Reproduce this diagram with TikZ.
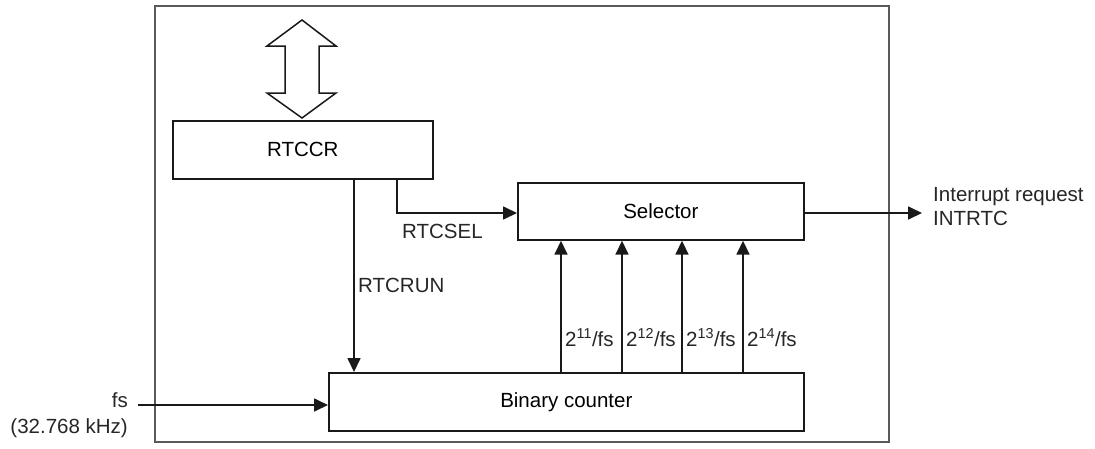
\documentclass[tikz,border=0pt]{standalone}
\usepackage{fontspec}
\setmainfont{Liberation Sans}
\usetikzlibrary{arrows.meta}
\begin{document}
\begin{tikzpicture}[x=1pt,y=-1pt,
  box/.style={draw=black!90, line width=1.7pt, inner sep=0pt, anchor=north west, font=\fontsize{20.5}{24}\selectfont},
  conn/.style={draw=black!90, line width=1.7pt, -{Triangle[length=14pt,width=13pt]}},
  lbl/.style={font=\fontsize{20.5}{24}\selectfont, inner sep=0pt, text=black!85}]
\useasboundingbox (0,0) rectangle (1095,448);
\node[draw=black!65, line width=1.5pt, inner sep=0pt, minimum width=734pt, minimum height=436pt, anchor=north west] (outer) at (154,5) {};
\node[box, minimum width=260pt, minimum height=58pt] (rtccr) at (172,120) {RTCCR};
\node[box, minimum width=286pt, minimum height=57pt] (selector) at (517,182) {Selector};
\node[box, minimum width=475pt, minimum height=58pt] (counter) at (328,372) {Binary counter};
% bus double arrow
\draw[draw=black!90, line width=1.5pt, fill=white, line join=miter]
  (302,20) -- (336,46) -- (319,46) -- (319,93) -- (336,93) -- (302,118)
  -- (267,93) -- (285,93) -- (285,46) -- (267,46) -- cycle;
% RTCRUN
\coordinate (runx) at (354,0);
\draw[conn] (rtccr.south -| runx) -- (counter.north -| runx);
\node[lbl, anchor=base west] (runlbl) at (358,292) {RTCRUN};
% RTCSEL
\coordinate (selx) at (397,0);
\coordinate (selin) at (517,213);
\draw[conn] (rtccr.south -| selx) |- (selin);
\node[lbl, anchor=base west] (sellbl) at (402,238) {RTCSEL};
% frequency taps
\foreach \x/\e in {561/11, 622/12, 682/13, 743/14} {
  \coordinate (tap\e) at (\x,0);
  \draw[conn] (counter.north -| tap\e) -- (selector.south -| tap\e);
  \node[lbl, anchor=base west] (t\e) at (\x+4,346) {2\textsuperscript{\e}/fs};
}
% output
\coordinate (outend) at (922,213);
\draw[conn] (selector.east |- outend) -- (outend);
\node[lbl, anchor=base west] (irq1) at (933,201) {Interrupt request};
\node[lbl, anchor=base west] (irq2) at (933,225) {INTRTC};
% fs input
\coordinate (fsin) at (138,405);
\draw[conn] (fsin) -- (fsin -| counter.west);
\node[lbl, anchor=base east] (fs1) at (128,407) {fs};
\node[lbl, anchor=base east] (fs2) at (128,433) {(32.768 kHz)};
\end{tikzpicture}
\end{document}
